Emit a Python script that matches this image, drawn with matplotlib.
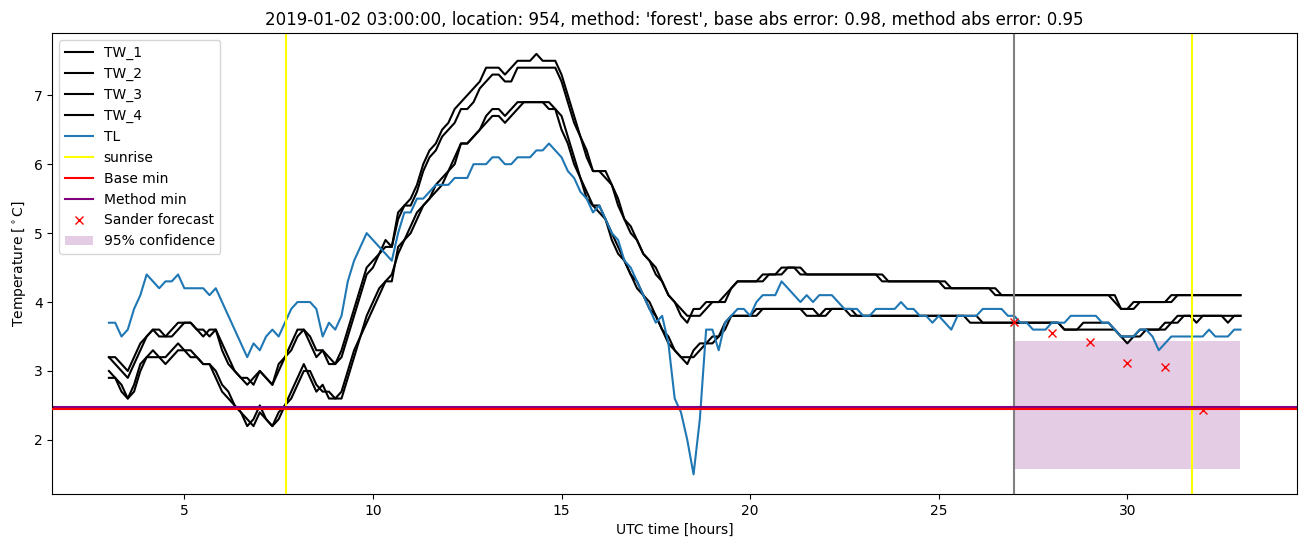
import numpy as np
import matplotlib
matplotlib.use("Agg")
import matplotlib.pyplot as plt

# 10-minute samples from 03:00 to 33:00 (hours since 2019-01-02 00 UTC)
hours = np.arange(3 * 6, 33 * 6 + 1) / 6.0

# road surface temperatures, one row per hour (6 samples), last value at 33:00
tw_1 = [
    3.2, 3.2, 3.1, 3.0, 3.2, 3.4,   3.5, 3.6, 3.5, 3.5, 3.6, 3.7,
    3.7, 3.7, 3.6, 3.5, 3.6, 3.6,   3.3, 3.1, 3.0, 2.9, 2.8, 2.9,
    3.0, 2.9, 2.8, 3.1, 3.2, 3.4,   3.6, 3.6, 3.4, 3.2, 3.3, 3.1,
    3.1, 3.3, 3.6, 3.9, 4.2, 4.5,   4.6, 4.7, 4.9, 4.8, 5.3, 5.4,
    5.5, 5.7, 6.0, 6.2, 6.3, 6.5,   6.6, 6.8, 6.9, 7.0, 7.1, 7.2,
    7.4, 7.4, 7.4, 7.3, 7.4, 7.5,   7.5, 7.5, 7.6, 7.5, 7.5, 7.5,
    7.3, 7.0, 6.7, 6.4, 6.2, 5.9,   5.9, 5.8, 5.7, 5.5, 5.2, 5.1,
    4.9, 4.7, 4.6, 4.5, 4.3, 4.1,   4.0, 3.8, 3.7, 3.9, 3.9, 4.0,
    4.0, 4.0, 4.1, 4.2, 4.3, 4.3,   4.3, 4.3, 4.4, 4.4, 4.4, 4.5,
    4.5, 4.5, 4.4, 4.4, 4.4, 4.4,   4.4, 4.4, 4.4, 4.4, 4.4, 4.4,
    4.4, 4.4, 4.4, 4.3, 4.3, 4.3,   4.3, 4.3, 4.3, 4.3, 4.3, 4.3,
    4.3, 4.2, 4.2, 4.2, 4.2, 4.2,   4.2, 4.2, 4.2, 4.1, 4.1, 4.1,
    4.1, 4.1, 4.1, 4.1, 4.1, 4.1,   4.1, 4.1, 4.1, 4.1, 4.1, 4.1,
    4.1, 4.1, 4.1, 4.1, 4.0, 3.9,   3.9, 4.0, 4.0, 4.0, 4.0, 4.0,
    4.0, 4.1, 4.1, 4.1, 4.1, 4.1,   4.1, 4.1, 4.1, 4.1, 4.1, 4.1,
    4.1,
]
tw_2 = [
    3.2, 3.1, 3.0, 2.9, 3.1, 3.3,   3.5, 3.6, 3.6, 3.5, 3.5, 3.6,
    3.7, 3.7, 3.6, 3.6, 3.5, 3.6,   3.4, 3.2, 3.0, 2.9, 2.9, 2.8,
    3.0, 2.9, 2.8, 3.0, 3.2, 3.3,   3.5, 3.6, 3.5, 3.3, 3.3, 3.2,
    3.1, 3.2, 3.5, 3.8, 4.1, 4.4,   4.5, 4.7, 4.8, 4.8, 5.2, 5.4,
    5.4, 5.6, 5.9, 6.1, 6.2, 6.4,   6.5, 6.6, 6.8, 6.8, 6.9, 7.1,
    7.2, 7.3, 7.3, 7.2, 7.2, 7.4,   7.4, 7.4, 7.4, 7.4, 7.4, 7.4,
    7.2, 6.9, 6.6, 6.4, 6.1, 5.9,   5.9, 5.9, 5.7, 5.4, 5.2, 5.0,
    4.9, 4.7, 4.6, 4.4, 4.3, 4.1,   4.0, 3.9, 3.8, 3.8, 3.8, 3.9,
    4.0, 4.0, 4.0, 4.2, 4.3, 4.3,   4.3, 4.3, 4.3, 4.4, 4.4, 4.4,
    4.5, 4.5, 4.5, 4.4, 4.4, 4.4,   4.4, 4.4, 4.4, 4.4, 4.4, 4.4,
    4.4, 4.4, 4.4, 4.4, 4.3, 4.3,   4.3, 4.3, 4.3, 4.3, 4.3, 4.3,
    4.3, 4.3, 4.2, 4.2, 4.2, 4.2,   4.2, 4.2, 4.2, 4.2, 4.1, 4.1,
    4.1, 4.1, 4.1, 4.1, 4.1, 4.1,   4.1, 4.1, 4.1, 4.1, 4.1, 4.1,
    4.1, 4.1, 4.1, 4.1, 4.1, 3.9,   3.9, 3.9, 4.0, 4.0, 4.0, 4.0,
    4.0, 4.0, 4.1, 4.1, 4.1, 4.1,   4.1, 4.1, 4.1, 4.1, 4.1, 4.1,
    4.1,
]
tw_3 = [
    3.0, 2.9, 2.8, 2.6, 2.8, 3.1,   3.2, 3.3, 3.2, 3.2, 3.3, 3.4,
    3.3, 3.3, 3.2, 3.1, 3.1, 3.0,   2.8, 2.7, 2.5, 2.4, 2.2, 2.3,
    2.5, 2.3, 2.2, 2.4, 2.5, 2.7,   2.9, 3.1, 2.9, 2.7, 2.8, 2.6,
    2.6, 2.7, 3.0, 3.3, 3.5, 3.8,   4.0, 4.2, 4.3, 4.3, 4.8, 4.9,
    5.1, 5.3, 5.4, 5.5, 5.7, 5.8,   5.9, 6.1, 6.3, 6.3, 6.4, 6.5,
    6.7, 6.8, 6.8, 6.7, 6.8, 6.9,   6.9, 6.9, 6.9, 6.9, 6.8, 6.8,
    6.7, 6.4, 6.1, 5.8, 5.6, 5.4,   5.4, 5.2, 5.0, 4.8, 4.6, 4.4,
    4.3, 4.1, 4.0, 3.8, 3.6, 3.5,   3.3, 3.2, 3.1, 3.3, 3.4, 3.4,
    3.5, 3.5, 3.7, 3.8, 3.8, 3.8,   3.8, 3.9, 3.9, 3.9, 3.9, 3.9,
    3.9, 3.9, 3.9, 3.8, 3.8, 3.8,   3.9, 3.9, 3.9, 3.9, 3.8, 3.8,
    3.8, 3.8, 3.8, 3.8, 3.8, 3.8,   3.8, 3.8, 3.8, 3.8, 3.8, 3.8,
    3.8, 3.8, 3.8, 3.8, 3.8, 3.7,   3.7, 3.7, 3.7, 3.7, 3.7, 3.7,
    3.7, 3.7, 3.7, 3.7, 3.7, 3.7,   3.7, 3.7, 3.6, 3.6, 3.6, 3.7,
    3.7, 3.7, 3.7, 3.7, 3.6, 3.5,   3.4, 3.5, 3.6, 3.6, 3.6, 3.6,
    3.7, 3.7, 3.7, 3.8, 3.8, 3.7,   3.8, 3.8, 3.8, 3.8, 3.7, 3.8,
    3.8,
]
tw_4 = [
    2.9, 2.9, 2.7, 2.6, 2.7, 3.0,   3.2, 3.2, 3.2, 3.1, 3.2, 3.3,
    3.3, 3.2, 3.2, 3.1, 3.1, 2.9,   2.7, 2.6, 2.5, 2.4, 2.3, 2.2,
    2.4, 2.3, 2.2, 2.3, 2.5, 2.6,   2.8, 3.0, 3.0, 2.8, 2.7, 2.7,
    2.6, 2.6, 2.9, 3.2, 3.5, 3.7,   3.9, 4.1, 4.3, 4.4, 4.7, 4.9,
    5.0, 5.2, 5.4, 5.5, 5.6, 5.7,   5.9, 6.0, 6.3, 6.3, 6.4, 6.5,
    6.6, 6.7, 6.7, 6.6, 6.7, 6.8,   6.9, 6.9, 6.9, 6.9, 6.9, 6.8,
    6.5, 6.3, 6.0, 5.8, 5.5, 5.4,   5.3, 5.2, 4.9, 4.7, 4.6, 4.4,
    4.2, 4.1, 3.9, 3.8, 3.6, 3.4,   3.3, 3.2, 3.2, 3.2, 3.3, 3.4,
    3.4, 3.5, 3.6, 3.8, 3.8, 3.8,   3.8, 3.8, 3.9, 3.9, 3.9, 3.9,
    3.9, 3.9, 3.9, 3.9, 3.9, 3.8,   3.8, 3.9, 3.9, 3.9, 3.9, 3.8,
    3.8, 3.8, 3.8, 3.8, 3.8, 3.8,   3.8, 3.8, 3.8, 3.8, 3.8, 3.8,
    3.8, 3.8, 3.8, 3.8, 3.8, 3.8,   3.8, 3.7, 3.7, 3.7, 3.7, 3.7,
    3.7, 3.7, 3.7, 3.7, 3.7, 3.7,   3.7, 3.7, 3.6, 3.6, 3.6, 3.6,
    3.6, 3.6, 3.6, 3.6, 3.6, 3.5,   3.5, 3.5, 3.5, 3.6, 3.6, 3.6,
    3.6, 3.7, 3.8, 3.8, 3.8, 3.8,   3.8, 3.8, 3.8, 3.8, 3.8, 3.8,
    3.8,
]
# air temperature
tl = [
    3.7, 3.7, 3.5, 3.6, 3.9, 4.1,   4.4, 4.3, 4.2, 4.3, 4.3, 4.4,
    4.2, 4.2, 4.2, 4.2, 4.1, 4.2,   4.0, 3.8, 3.6, 3.4, 3.2, 3.4,
    3.3, 3.5, 3.6, 3.5, 3.7, 3.9,   4.0, 4.0, 4.0, 3.9, 3.5, 3.7,
    3.6, 3.8, 4.3, 4.6, 4.8, 5.0,   4.9, 4.8, 4.7, 4.6, 5.0, 5.3,
    5.3, 5.5, 5.5, 5.6, 5.7, 5.7,   5.7, 5.8, 5.8, 5.8, 6.0, 6.0,
    6.0, 6.1, 6.1, 6.0, 6.0, 6.1,   6.1, 6.1, 6.2, 6.2, 6.3, 6.2,
    6.1, 5.9, 5.8, 5.6, 5.5, 5.3,   5.4, 5.2, 5.0, 4.9, 4.6, 4.5,
    4.3, 4.1, 3.9, 3.7, 3.8, 3.4,   2.6, 2.4, 2.0, 1.5, 2.3, 3.6,
    3.6, 3.3, 3.7, 3.8, 3.9, 3.9,   3.8, 4.0, 4.1, 4.1, 4.1, 4.3,
    4.2, 4.1, 4.0, 4.1, 4.0, 4.1,   4.1, 4.1, 4.0, 3.9, 3.9, 3.9,
    3.8, 3.8, 3.9, 3.9, 3.9, 3.9,   4.0, 3.9, 3.9, 3.8, 3.8, 3.7,
    3.8, 3.7, 3.6, 3.8, 3.8, 3.8,   3.8, 3.9, 3.9, 3.9, 3.9, 3.8,
    3.8, 3.7, 3.7, 3.6, 3.6, 3.6,   3.7, 3.7, 3.7, 3.8, 3.8, 3.8,
    3.8, 3.8, 3.7, 3.7, 3.6, 3.5,   3.5, 3.5, 3.6, 3.6, 3.5, 3.3,
    3.4, 3.5, 3.5, 3.5, 3.5, 3.5,   3.5, 3.6, 3.5, 3.5, 3.5, 3.6,
    3.6,
]

sunrise = [7.70, 31.72]
forecast_start = 27.0
base_min = 2.445
method_min = 2.473
forecast_hours = [27, 28, 29, 30, 31, 32]
forecast_vals = [3.71, 3.55, 3.42, 3.12, 3.06, 2.43]
conf_hours = [27, 33]
conf_low = 1.58
conf_high = 3.43

title = ("2019-01-02 03:00:00, location: 954, method: 'forest', "
         "base abs error: 0.98, method abs error: 0.95")

fig = plt.figure(figsize=(13.02, 5.47), dpi=100)
ax = fig.add_axes([0.0402, 0.0969, 0.956, 0.843])

for name, vals in zip(['TW_1', 'TW_2', 'TW_3', 'TW_4'], [tw_1, tw_2, tw_3, tw_4]):
    ax.plot(hours, vals, color='black', label=name)
ax.plot(hours, tl, color='C0', label='TL')

ax.axvline(sunrise[0], color='yellow', label='sunrise')
ax.axvline(sunrise[1], color='yellow')
ax.axvline(forecast_start, color='gray')

# red drawn above purple, purple peeks out on top
ax.axhline(base_min, color='red', label='Base min', zorder=3)
ax.axhline(method_min, color='purple', label='Method min', zorder=2.5)

ax.plot(forecast_hours, forecast_vals, 'x', color='red', label='Sander forecast')
ax.fill_between(conf_hours, conf_low, conf_high, color='purple', alpha=0.2,
                lw=0, label='95% confidence')

ax.set_xlim(1.5, 34.5)
ax.set_ylim(1.215, 7.905)
ax.set_xlabel('UTC time [hours]')
ax.set_ylabel(r'Temperature [$^\circ$C]')
ax.set_title(title)
ax.legend(loc='upper left')

fig.savefig('out.png', dpi=100)
